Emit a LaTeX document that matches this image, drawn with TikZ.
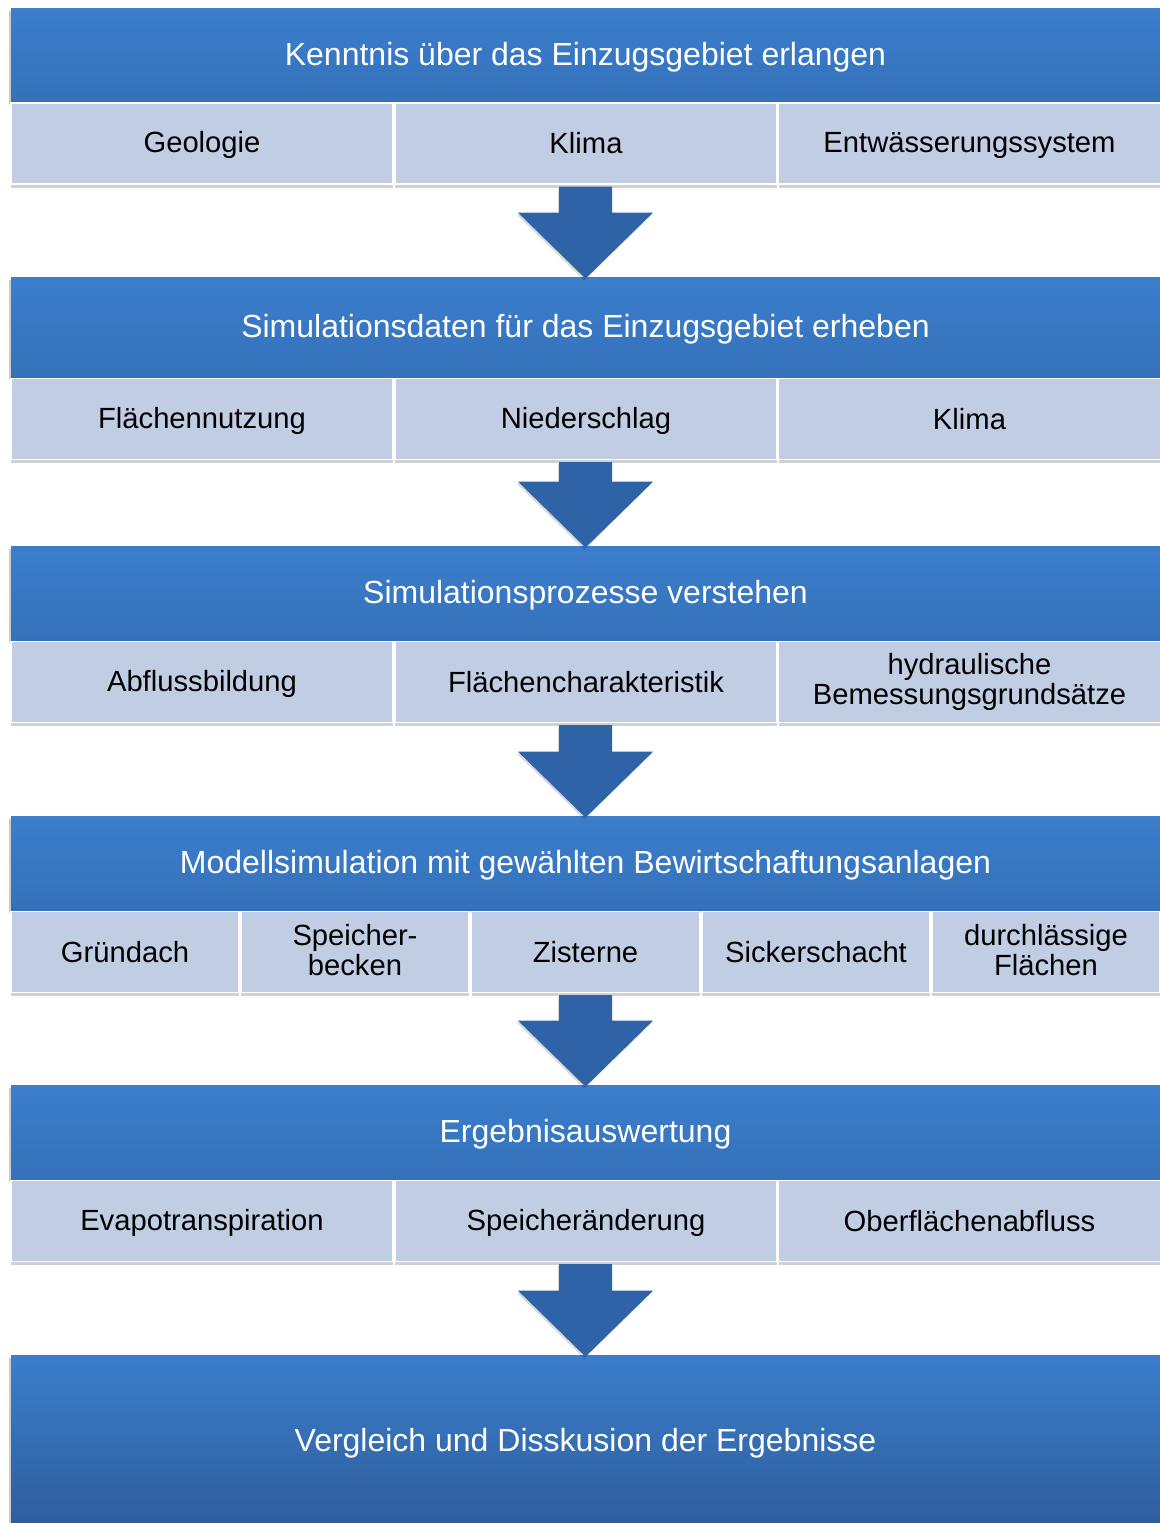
\documentclass[tikz,border=0pt]{standalone}
\usepackage{fontspec}
\setmainfont{Liberation Sans}
\usetikzlibrary{calc,shadows}
\definecolor{Hdtop}{HTML}{3B7ECC}
\definecolor{Hdbot}{HTML}{3571BA}
\definecolor{Endbot}{HTML}{2F5E9D}
\definecolor{Cellc}{HTML}{C0CDE3}
\definecolor{Arrc}{HTML}{2E63A7}
\newcommand{\hstrut}[2]{\rule[-#2]{0pt}{#1}}% total height, depth
\tikzset{
  soft/.style={drop shadow={shadow xshift=-0.8pt, shadow yshift=-1.6pt, opacity=0.2, fill=black}},
  head/.style={rectangle, top color=Hdtop, bottom color=Hdbot, text=white, inner sep=0pt,
    minimum width=574.5pt, minimum height=47pt, font=\fontsize{16}{19}\selectfont, soft,
    execute at begin node=\hstrut{19pt}{4.2pt}},
  cell/.style={rectangle, fill=Cellc, draw=white, line width=0.6pt, inner sep=0pt, align=center,
    minimum height=40.5pt, font=\fontsize{14.6}{15}\selectfont,
    execute at begin node=\hstrut{15pt}{2.5pt}, execute at end node=\hstrut{15pt}{2.5pt},
    drop shadow={shadow xshift=0pt, shadow yshift=-1.8pt, opacity=0.18, fill=black}},
  wide/.style={cell, minimum width=191pt},
  narrow/.style={cell, minimum width=114pt},
  blk/.style={fill=Arrc, drop shadow={shadow xshift=-0.6pt, shadow yshift=-1pt, opacity=0.15, fill=black}},
}
% block arrow from the row above (#1) down to the next header (#2)
\newcommand{\blockarr}[2]{%
  \coordinate (tip) at ([yshift=-1pt]#2.north);
  \coordinate (top) at (tip |- #1.south);
  \fill[blk] ([shift={(-13.25pt,-1pt)}]top) -- ([shift={(13.25pt,-1pt)}]top)
    -- ([shift={(13.25pt,33pt)}]tip) -- ([shift={(33.75pt,33pt)}]tip) -- (tip)
    -- ([shift={(-33.75pt,33pt)}]tip) -- ([shift={(-13.25pt,33pt)}]tip) -- cycle;}

\begin{document}
\begin{tikzpicture}[x=1pt, y=-1pt]
  \useasboundingbox (0,0) rectangle (580,761.5);
  % step 1
  \node[head] (kenntnis) at (292.75,27.5) {Kenntnis über das Einzugsgebiet erlangen};
  \node[wide] (geologie) at (101,71.75) {Geologie};
  \node[wide] (klima) at (293,71.75) {Klima};
  \node[wide] (entw) at (484.75,71.75) {Entwässerungssystem};
  % step 2
  \node[head, minimum height=50pt] (simdaten) at (292.75,163.5) {Simulationsdaten für das Einzugsgebiet erheben};
  \node[wide] (flnutz) at (101,209.5) {Flächennutzung};
  \node[wide] (niederschlag) at (293,209.5) {Niederschlag};
  \node[wide] (klimb) at (484.75,209.5) {Klima};
  % step 3
  \node[head] (simproz) at (292.75,296.5) {Simulationsprozesse verstehen};
  \node[wide] (abfluss) at (101,341) {Abflussbildung};
  \node[wide] (flchar) at (293,341) {Flächencharakteristik};
  \node[wide] (hydr) at (484.75,341) {hydraulische\\Bemessungsgrundsätze};
  % step 4
  \node[head] (modsim) at (292.75,431.5) {Modellsimulation mit gewählten Bewirtschaftungsanlagen};
  \foreach \x/\nm/\txt in {62.5/gruendach/Gründach, 177.5/speicher/{Speicher-\\becken},
      292.75/zisterne/Zisterne, 408/sicker/Sickerschacht, 523/durchl/{durchlässige\\Flächen}}
    \node[narrow] (\nm) at (\x,476) {\txt};
  % step 5
  \node[head] (ergebnis) at (292.75,566) {Ergebnisauswertung};
  \node[wide] (evapo) at (101,610.5) {Evapotranspiration};
  \node[wide] (speich) at (293,610.5) {Speicheränderung};
  \node[wide] (oberfl) at (484.75,610.5) {Oberflächenabfluss};
  % last step
  \node[head, bottom color=Endbot, minimum height=84pt, execute at begin node=\hstrut{19pt}{2.2pt}]
    (vergleich) at (292.75,719.5) {Vergleich und Disskusion der Ergebnisse};
  \blockarr{klima}{simdaten}
  \blockarr{niederschlag}{simproz}
  \blockarr{flchar}{modsim}
  \blockarr{zisterne}{ergebnis}
  \blockarr{speich}{vergleich}
\end{tikzpicture}
\end{document}
